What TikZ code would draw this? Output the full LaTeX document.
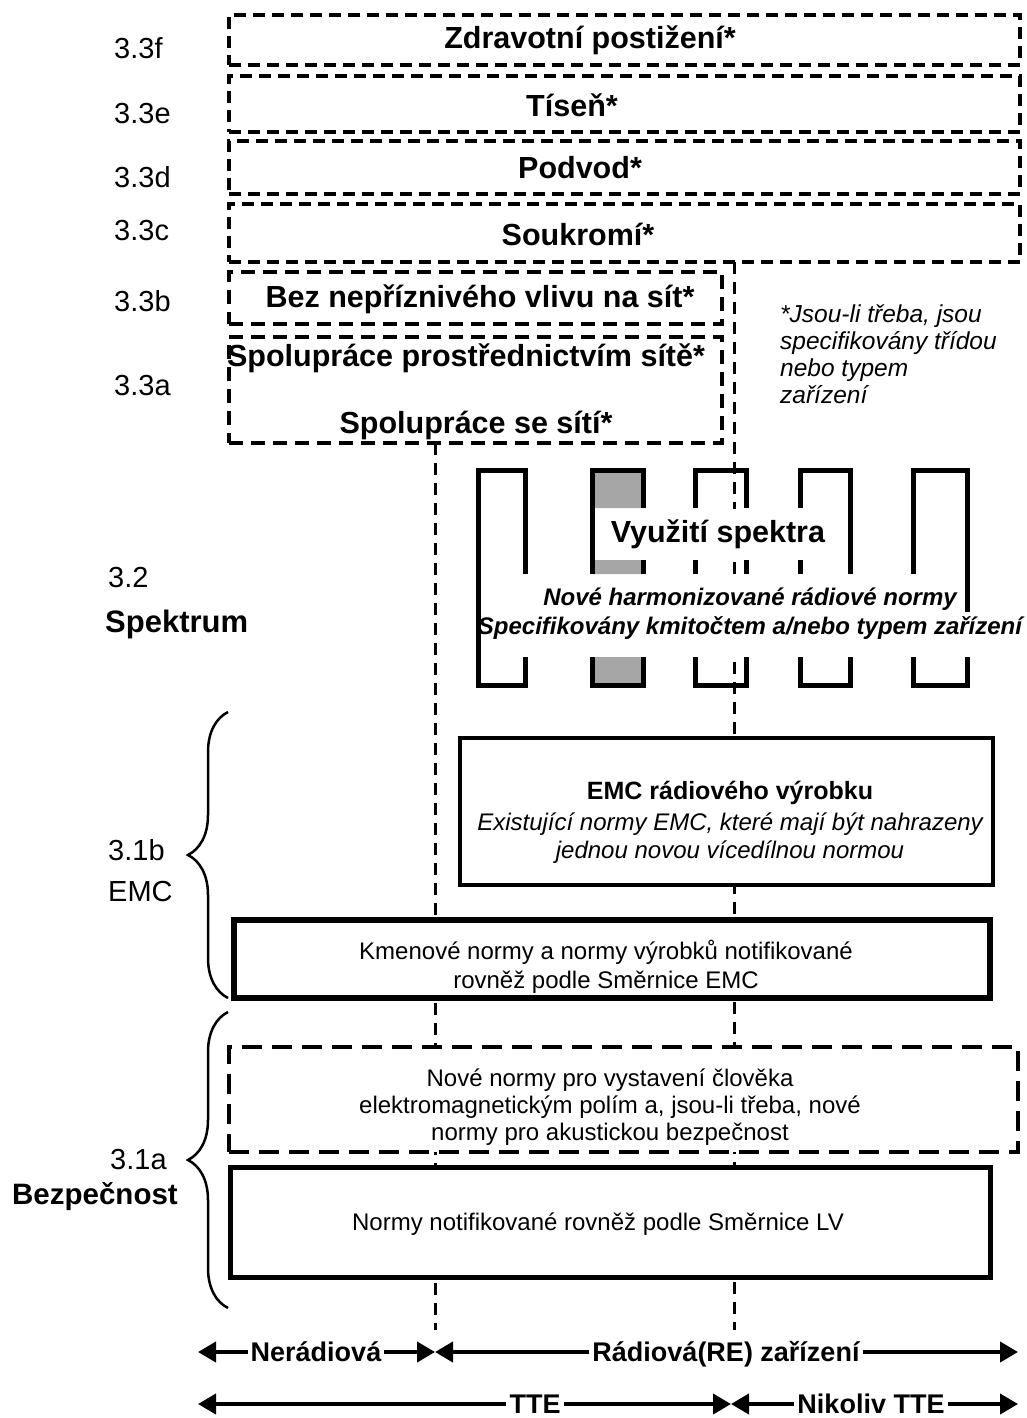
\documentclass[tikz,border=0pt]{standalone}
\usepackage{fontspec}
\setmainfont{Liberation Sans}
\usetikzlibrary{arrows.meta,positioning,decorations.pathreplacing}

\begin{document}
\begin{tikzpicture}[x=1pt, y=-1pt,
  dbox/.style={draw, line width=4pt, dash pattern=on 12pt off 7pt, fill=white},
  lbox/.style={draw, line width=4pt, dash pattern=on 20pt off 10pt, fill=white},
  sbox/.style={draw, line width=5pt, fill=white},
  vline/.style={line width=3pt, dash pattern=on 12pt off 8pt},
  slot/.style={line width=5pt},
  arr/.style={-{Triangle[length=18pt,width=20pt]}, line width=4pt},
  hd/.style={font=\fontsize{30.5}{34}\selectfont\bfseries, inner sep=1pt},
  body/.style={font=\fontsize{24}{28}\selectfont, align=center, inner sep=0pt},
  lbl/.style={font=\fontsize{29}{33}\selectfont, anchor=west, inner sep=0pt},
  bt/.style={font=\fontsize{27}{30}\selectfont\bfseries, inner xsep=3pt, inner ysep=0pt,
             text height=20pt, text depth=0.6pt},
  brc/.style={decorate, decoration={brace, amplitude=40pt}, line width=2.5pt}
]
\useasboundingbox (0,0) rectangle (1027,1418);

% dashed separators
\coordinate (nrtop) at (435,443);
\coordinate (nrbot) at (435,1330);
\coordinate (retop) at (734,262);
\coordinate (rebot) at (734,1330);
\draw[vline] (nrtop) -- (nrbot);
\draw[vline] (retop) -- (rebot);

% 3.3 boxes
\node[dbox, minimum width=791pt, minimum height=50pt] (zdrav) at (624.5,40) {};
\node[dbox, minimum width=791pt, minimum height=56pt] (tisen) at (624.5,104) {};
\node[dbox, minimum width=791pt, minimum height=53pt] (podvod) at (624.5,167.5) {};
\node[dbox, minimum width=791pt, minimum height=58pt] (soukr) at (624.5,233) {};
\node[dbox, dash pattern=on 14pt off 8pt, minimum width=493pt, minimum height=52pt] (neprizn) at (475.5,298) {};
\node[dbox, dash pattern=on 14pt off 8pt, minimum width=493pt, minimum height=106pt] (spolu) at (475.5,390) {};

\node[hd] (zdravt) at (590,40) {Zdravotní postižení*};
\node[hd] (tisent) at (572,105) {Tíseň*};
\node[hd] (podvodt) at (580,168) {Podvod*};
\node[hd] (soukrt) at (578,234) {Soukromí*};
\node[hd] (neprint) at (480,299) {Bez nepříznivého vlivu na sít*};
\node[hd] (spolut) at (466,358) {Spolupráce prostřednictvím sítě*};
\node[hd] (spolusit) at (476,425) {Spolupráce se sítí*};

\node[font=\fontsize{24.5}{27}\selectfont\itshape, align=left, anchor=west, inner sep=0pt]
  (note) at (780,354) {*Jsou-li třeba, jsou\\specifikovány třídou\\nebo typem\\zařízení};

% left labels
\node[lbl] (l33f) at (114,48) {3.3f};
\node[lbl] (l33e) at (114,114) {3.3e};
\node[lbl] (l33d) at (114,177) {3.3d};
\node[lbl] (l33c) at (114,231) {3.3c};
\node[lbl] (l33b) at (114,301) {3.3b};
\node[lbl] (l33a) at (114,386) {3.3a};
\node[lbl] (l32) at (108,578) {3.2};
\node[lbl, font=\fontsize{31}{34}\selectfont\bfseries] (spek) at (105,624) {Spektrum};
\node[lbl] (l31b) at (108,850) {3.1b};
\node[lbl] (emcl) at (108,892) {EMC};
\node[lbl] (l31a) at (110,1160) {3.1a};
\node[lbl, font=\fontsize{29.5}{34}\selectfont\bfseries] (bezp) at (12,1197) {Bezpečnost};

% spectrum
\node[hd, fill=white, minimum height=50pt] (vyuz) at (718,534) {Využití spektra};
\node[font=\fontsize{24}{29}\selectfont\bfseries\itshape, fill=white, align=center,
  inner sep=1pt, minimum height=80pt] (nove) at (750,614)
  {Nové harmonizované rádiové normy\\Specifikovány kmitočtem a/nebo typem zařízení};

\fill[black!35] (592,470) rectangle (643,508) (592,560) rectangle (643,574)
  (592,657) rectangle (643,685);
\draw[slot] (478,685) -- (478,470) -- (525,470) -- (525,574);
\draw[slot] (592,574) -- (592,470) -- (643,470) -- (643,508);
\draw[slot] (643,560) -- (643,574);
\draw[slot] (695,508) -- (695,470) -- (746,470) -- (746,508);
\draw[slot] (695,560) -- (695,574);
\draw[slot] (746,560) -- (746,574);
\draw[slot] (800,508) -- (800,470) -- (850,470) -- (850,574);
\draw[slot] (800,560) -- (800,574);
\draw[slot] (913,574) -- (913,470) -- (967,470) -- (967,612);
\foreach \l/\r in {478/525,592/643,695/746,800/850,913/967}
  \draw[slot] (\l,657) -- (\l,685) -- (\r,685) -- (\r,657);

% EMC
\node[sbox, line width=4pt, minimum width=533pt, minimum height=147pt] (emcr) at (726.5,811.5) {};
\node[body] (emct) at (730,822)
  {{\fontsize{25}{29}\selectfont\bfseries EMC rádiového výrobku}\\[3pt]
   \itshape Existující normy EMC, které mají být nahrazeny\\
   \itshape jednou novou vícedílnou normou};
\node[sbox, line width=6pt, minimum width=756pt, minimum height=78pt] (kmen) at (612,959) {};
\node[body, font=\fontsize{24}{29}\selectfont] (kment) at (606,967)
  {Kmenové normy a normy výrobků notifikované\\rovněž podle Směrnice EMC};

% bezpecnost
\node[lbox, minimum width=789pt, minimum height=105pt] (expo) at (623.5,1099.5) {};
\node[body, font=\fontsize{24}{27}\selectfont] (expot) at (610,1107)
  {Nové normy pro vystavení člověka\\elektromagnetickým polím a, jsou-li třeba, nové\\normy pro akustickou bezpečnost};
\node[sbox, minimum width=760pt, minimum height=110pt] (lv) at (610,1222) {};
\node[body] (lvt) at (598,1224) {Normy notifikované rovněž podle Směrnice LV};

% braces
\draw[brc] (228,998) -- (228,712);
\draw[brc] (228,1308) -- (228,1012);

% bottom ranges
\coordinate (a1l) at (198,1352);
\coordinate (a1m) at (435,1352);
\coordinate (a1r) at (1018,1352);
\coordinate (a2l) at (198,1404);
\coordinate (a2m) at (731,1404);
\coordinate (a2r) at (1018,1404);
\node[bt] (nerad) at (316,1352) {Nerádiová};
\node[bt] (rad) at (726,1352) {Rádiová(RE) zařízení};
\node[bt] (tte) at (535,1404) {TTE};
\node[bt] (ntte) at (871,1404) {Nikoliv TTE};
\draw[arr] (nerad) -- (a1l);
\draw[arr] (nerad) -- (a1m);
\draw[arr] (rad) -- (a1m);
\draw[arr] (rad) -- (a1r);
\draw[arr] (tte) -- (a2l);
\draw[arr] (tte) -- (a2m);
\draw[arr] (ntte) -- (a2m);
\draw[arr] (ntte) -- (a2r);
\end{tikzpicture}
\end{document}
